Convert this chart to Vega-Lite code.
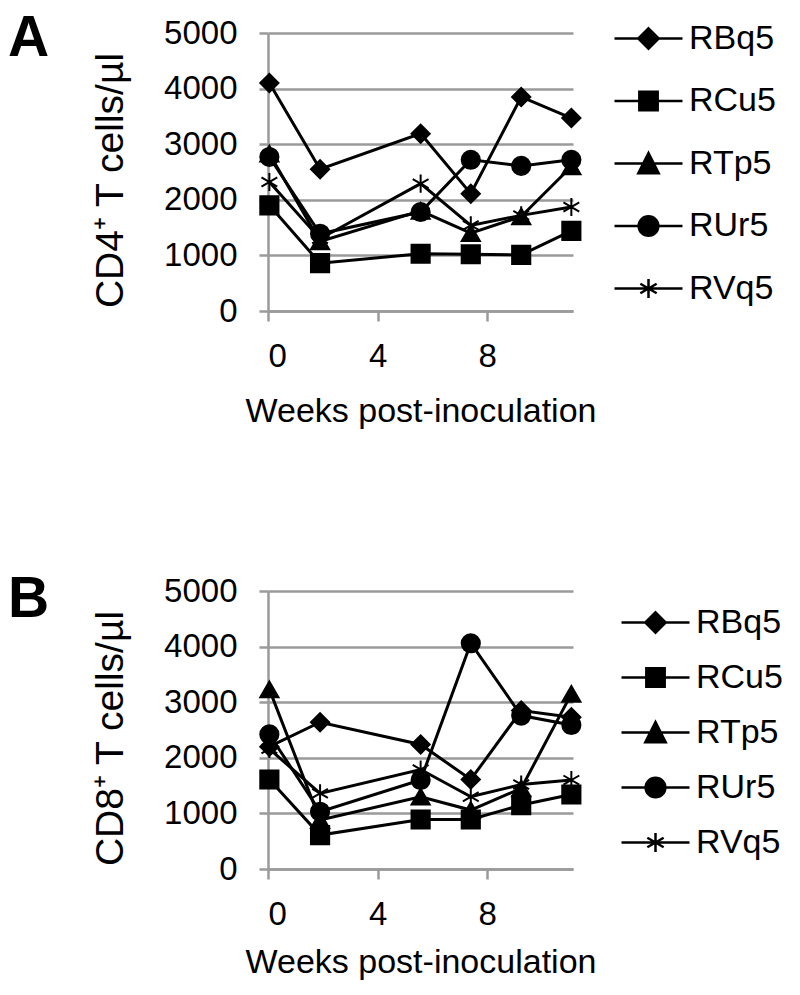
{
  "$schema": "https://vega.github.io/schema/vega-lite/v6.json",
  "padding": {"left": 8, "top": 3, "right": 5, "bottom": 5},
  "background": "white",
  "config": {
    "font": "Liberation Sans",
    "view": {"stroke": null},
    "point": {"stroke": "black", "strokeWidth": 2.5},
    "axis": {
      "labelFont": "Liberation Sans", "labelColor": "black", "labelFontSize": 33,
      "titleFont": "Liberation Sans", "titleColor": "black", "titleFontSize": 34, "titleFontWeight": "normal",
      "domainColor": "#9a9a9a", "domainWidth": 2.5, "tickColor": "#9a9a9a", "tickWidth": 2.5,
      "gridColor": "#9a9a9a", "gridWidth": 2.5, "gridOpacity": 1
    },
    "legend": {"labelFont": "Liberation Sans", "labelFontSize": 34, "labelColor": "black"}
  },
  "datasets": {
    "cd4": [
      {"series": "RBq5", "week": 0.05, "count": 4100}, {"series": "RBq5", "week": 1.9, "count": 2550}, {"series": "RBq5", "week": 5.57, "count": 3190}, {"series": "RBq5", "week": 7.4, "count": 2110}, {"series": "RBq5", "week": 9.24, "count": 3850}, {"series": "RBq5", "week": 11.07, "count": 3470},
      {"series": "RCu5", "week": 0.05, "count": 1900}, {"series": "RCu5", "week": 1.9, "count": 860}, {"series": "RCu5", "week": 5.57, "count": 1030}, {"series": "RCu5", "week": 7.4, "count": 1020}, {"series": "RCu5", "week": 9.24, "count": 1010}, {"series": "RCu5", "week": 11.07, "count": 1440},
      {"series": "RTp5", "week": 0.05, "count": 2830}, {"series": "RTp5", "week": 1.9, "count": 1250}, {"series": "RTp5", "week": 5.57, "count": 1800}, {"series": "RTp5", "week": 7.4, "count": 1400}, {"series": "RTp5", "week": 9.24, "count": 1700}, {"series": "RTp5", "week": 11.07, "count": 2600},
      {"series": "RUr5", "week": 0.05, "count": 2770}, {"series": "RUr5", "week": 1.9, "count": 1390}, {"series": "RUr5", "week": 5.57, "count": 1780}, {"series": "RUr5", "week": 7.4, "count": 2720}, {"series": "RUr5", "week": 9.24, "count": 2610}, {"series": "RUr5", "week": 11.07, "count": 2720},
      {"series": "RVq5", "week": 0.05, "count": 2320}, {"series": "RVq5", "week": 1.9, "count": 1300}, {"series": "RVq5", "week": 5.57, "count": 2290}, {"series": "RVq5", "week": 7.4, "count": 1540}, {"series": "RVq5", "week": 9.24, "count": 1720}, {"series": "RVq5", "week": 11.07, "count": 1870}
    ],
    "cd8": [
      {"series": "RBq5", "week": 0.05, "count": 2200}, {"series": "RBq5", "week": 1.9, "count": 2640}, {"series": "RBq5", "week": 5.57, "count": 2240}, {"series": "RBq5", "week": 7.4, "count": 1610}, {"series": "RBq5", "week": 9.24, "count": 2850}, {"series": "RBq5", "week": 11.07, "count": 2730},
      {"series": "RCu5", "week": 0.05, "count": 1610}, {"series": "RCu5", "week": 1.9, "count": 610}, {"series": "RCu5", "week": 5.57, "count": 890}, {"series": "RCu5", "week": 7.4, "count": 890}, {"series": "RCu5", "week": 9.24, "count": 1150}, {"series": "RCu5", "week": 11.07, "count": 1340},
      {"series": "RTp5", "week": 0.05, "count": 3230}, {"series": "RTp5", "week": 1.9, "count": 880}, {"series": "RTp5", "week": 5.57, "count": 1300}, {"series": "RTp5", "week": 7.4, "count": 1060}, {"series": "RTp5", "week": 9.24, "count": 1450}, {"series": "RTp5", "week": 11.07, "count": 3150},
      {"series": "RUr5", "week": 0.05, "count": 2420}, {"series": "RUr5", "week": 1.9, "count": 1030}, {"series": "RUr5", "week": 5.57, "count": 1600}, {"series": "RUr5", "week": 7.4, "count": 4060}, {"series": "RUr5", "week": 9.24, "count": 2760}, {"series": "RUr5", "week": 11.07, "count": 2590},
      {"series": "RVq5", "week": 0.05, "count": 2160}, {"series": "RVq5", "week": 1.9, "count": 1360}, {"series": "RVq5", "week": 5.57, "count": 1790}, {"series": "RVq5", "week": 7.4, "count": 1300}, {"series": "RVq5", "week": 9.24, "count": 1520}, {"series": "RVq5", "week": 11.07, "count": 1600}
    ]
  },
  "spacing": 143,
  "resolve": {"scale": {"shape": "independent", "x": "independent", "y": "independent"}, "legend": {"shape": "independent"}},
  "vconcat": [
    {
      "title": {"text": "A", "anchor": "start", "frame": "group", "fontSize": 57, "fontWeight": "bold", "color": "black", "font": "Liberation Sans", "dx": -260, "dy": 69},
      "width": 305, "height": 278,
      "data": {"name": "cd4"},
      "resolve": {"scale": {"shape": "independent"}, "legend": {"shape": "independent"}},
      "encoding": {
        "x": {"field": "week", "type": "quantitative", "scale": {"domain": [0, 11.13], "nice": false, "zero": false},
              "axis": {"title": "Weeks post-inoculation", "values": [0, 4, 8], "grid": false, "tickSize": 10, "labelPadding": 19, "titlePadding": 21}},
        "y": {"field": "count", "type": "quantitative", "scale": {"domain": [0, 5000], "nice": false},
              "axis": {"title": "CD4⁺ T cells/µl", "titleFontSize": 39, "titleY": 147, "values": [0, 1000, 2000, 3000, 4000, 5000], "format": "d", "grid": true, "tickSize": 9, "labelPadding": 22, "titlePadding": 33}}
      },
      "layer": [
        {"mark": {"type": "line", "color": "black", "strokeWidth": 3}, "encoding": {"detail": {"field": "series", "type": "nominal"}}},
        {"mark": {"type": "point", "filled": true, "color": "black", "stroke": "black", "strokeWidth": 2, "size": 330, "opacity": 1},
         "encoding": {
           "shape": {"field": "series", "type": "nominal", "legend": null,
             "scale": {"range": ["diamond", "square", "triangle-up", "circle", "M0,-1V1M-0.87,-0.5L0.87,0.5M-0.87,0.5L0.87,-0.5"]}}}},
        {"mark": {"type": "point", "filled": true, "color": "black", "stroke": "black", "strokeWidth": 2.5, "opacity": 0},
         "encoding": {
           "shape": {"field": "series", "type": "nominal",
             "scale": {"domain": ["RBq5", "RCu5", "RTp5", "RUr5", "RVq5"], "range": [
               "M-1,0H1M0,-0.3L0.3,0L0,0.3L-0.3,0Z",
               "M-1,0H1M-0.27,-0.27H0.27V0.27H-0.27Z",
               "M-1,0H1M0,-0.31L0.3,0.29H-0.3Z",
               "M-1,0H1M-0.29,0A0.29,0.29,0,1,1,0.29,0A0.29,0.29,0,1,1,-0.29,0Z",
               "M-1,0H1M0,-0.28V0.28M-0.24,-0.14L0.24,0.14M-0.24,0.14L0.24,-0.14"]},
             "legend": {"orient": "none", "legendX": 345, "legendY": -30, "title": null, "symbolSize": 4624, "symbolStrokeWidth": 2.5, "symbolOpacity": 1, "rowPadding": 9.5, "labelOffset": 5,
               "encode": {"symbols": {"stroke": {"value": "black"}, "strokeWidth": {"value": 2.5}}}}}}}
      ]
    },
    {
      "title": {"text": "B", "anchor": "start", "frame": "group", "fontSize": 57, "fontWeight": "bold", "color": "black", "font": "Liberation Sans", "dx": -260, "dy": 58},
      "width": 305, "height": 278,
      "data": {"name": "cd8"},
      "resolve": {"scale": {"shape": "independent"}, "legend": {"shape": "independent"}},
      "encoding": {
        "x": {"field": "week", "type": "quantitative", "scale": {"domain": [0, 11.13], "nice": false, "zero": false},
              "axis": {"title": "Weeks post-inoculation", "values": [0, 4, 8], "grid": false, "tickSize": 10, "labelPadding": 19, "titlePadding": 14}},
        "y": {"field": "count", "type": "quantitative", "scale": {"domain": [0, 5000], "nice": false},
              "axis": {"title": "CD8⁺ T cells/µl", "titleFontSize": 39, "titleY": 147, "values": [0, 1000, 2000, 3000, 4000, 5000], "format": "d", "grid": true, "tickSize": 9, "labelPadding": 22, "titlePadding": 33}}
      },
      "layer": [
        {"mark": {"type": "line", "color": "black", "strokeWidth": 3}, "encoding": {"detail": {"field": "series", "type": "nominal"}}},
        {"mark": {"type": "point", "filled": true, "color": "black", "stroke": "black", "strokeWidth": 2, "size": 330, "opacity": 1},
         "encoding": {
           "shape": {"field": "series", "type": "nominal", "legend": null,
             "scale": {"range": ["diamond", "square", "triangle-up", "circle", "M0,-1V1M-0.87,-0.5L0.87,0.5M-0.87,0.5L0.87,-0.5"]}}}},
        {"mark": {"type": "point", "filled": true, "color": "black", "stroke": "black", "strokeWidth": 2.5, "opacity": 0},
         "encoding": {
           "shape": {"field": "series", "type": "nominal",
             "scale": {"domain": ["RBq5", "RCu5", "RTp5", "RUr5", "RVq5"], "range": [
               "M-1,0H1M0,-0.3L0.3,0L0,0.3L-0.3,0Z",
               "M-1,0H1M-0.27,-0.27H0.27V0.27H-0.27Z",
               "M-1,0H1M0,-0.31L0.3,0.29H-0.3Z",
               "M-1,0H1M-0.29,0A0.29,0.29,0,1,1,0.29,0A0.29,0.29,0,1,1,-0.29,0Z",
               "M-1,0H1M0,-0.28V0.28M-0.24,-0.14L0.24,0.14M-0.24,0.14L0.24,-0.14"]},
             "legend": {"orient": "none", "legendX": 352, "legendY": -4, "title": null, "symbolSize": 4624, "symbolStrokeWidth": 2.5, "symbolOpacity": 1, "rowPadding": 2, "labelOffset": 5,
               "encode": {"symbols": {"stroke": {"value": "black"}, "strokeWidth": {"value": 2.5}}}}}}}
      ]
    }
  ]
}
